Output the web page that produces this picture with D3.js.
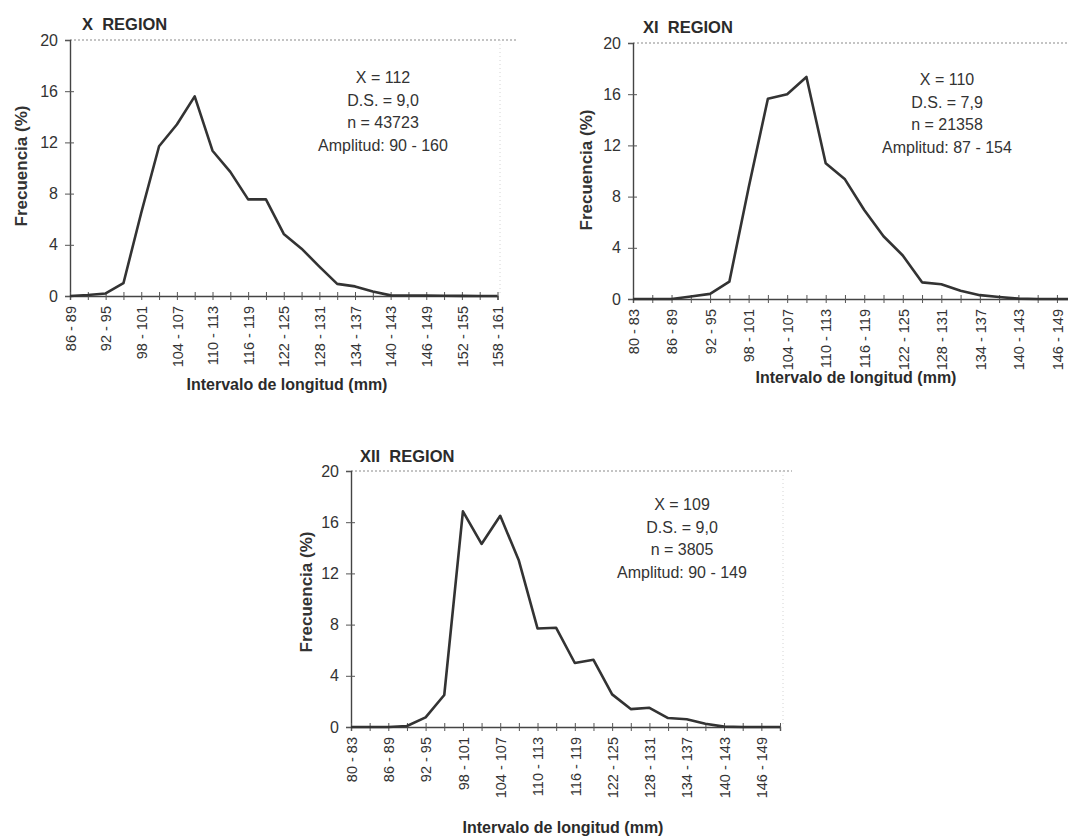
<!DOCTYPE html>
<html>
<head>
<meta charset="utf-8">
<script src="https://cdn.jsdelivr.net/npm/d3@7"></script>
<style>
  body { margin: 0; background: #fff; }
  svg { display: block; font-family: "Liberation Sans", Arial, sans-serif; }
</style>
</head>
<body>
<script>
// length classes (mm)
const catsX = ['86 - 89', '89 - 92', '92 - 95', '95 - 98', '98 - 101', '101 - 104', '104 - 107',
    '107 - 110', '110 - 113', '113 - 116', '116 - 119', '119 - 122', '122 - 125', '125 - 128',
    '128 - 131', '131 - 134', '134 - 137', '137 - 140', '140 - 143', '143 - 146', '146 - 149',
    '149 - 152', '152 - 155', '155 - 158', '158 - 161'];
const catsSouth = ['80 - 83', '83 - 86', '86 - 89', '89 - 92', '92 - 95', '95 - 98', '98 - 101',
    '101 - 104', '104 - 107', '107 - 110', '110 - 113', '113 - 116', '116 - 119', '119 - 122',
    '122 - 125', '125 - 128', '128 - 131', '131 - 134', '134 - 137', '137 - 140', '140 - 143',
    '143 - 146', '146 - 149', '149 - 152'];

// frecuencia (%)
const freqX = [0, 0.08, 0.2, 1.0, 6.5, 11.7, 13.4, 15.6, 11.35, 9.7, 7.55, 7.55, 4.85, 3.7,
    2.3, 0.95, 0.75, 0.35, 0.05, 0.04, 0.03, 0.02, 0.01, 0, 0];
const freqXI = [0, 0, 0, 0.2, 0.4, 1.35, 8.7, 15.65, 16.0, 17.35, 10.6, 9.35, 6.95, 4.9,
    3.4, 1.3, 1.15, 0.65, 0.3, 0.15, 0.03, 0, 0, 0];
const freqXII = [0, 0, 0, 0.08, 0.75, 2.5, 16.85, 14.3, 16.5, 13.0, 7.7, 7.75, 5.0, 5.25,
    2.55, 1.4, 1.5, 0.7, 0.6, 0.25, 0.03, 0, 0, 0];

const statsX = ['X = 112', 'D.S. = 9,0', 'n = 43723', 'Amplitud: 90 - 160'];
const statsXI = ['X = 110', 'D.S. = 7,9', 'n = 21358', 'Amplitud: 87 - 154'];
const statsXII = ['X = 109', 'D.S. = 9,0', 'n = 3805', 'Amplitud: 90 - 149'];

const yTicks = [0, 4, 8, 12, 16, 20];
const ink = '#2b2b2b';

const panels = [
    {title: 'X  REGION', cats: catsX, vals: freqX, stats: statsX,
     x0: 70, x1: 497.5, top: 40, bottom: 296, gridEnd: 517, border: 500,
     titleX: 82, titleY: 30, statX: 383, statY: 83,
     yTitleX: 27, yTitleY: 166, xTitleX: 287, xTitleY: 390},
    {title: 'XI  REGION', cats: catsSouth, vals: freqXI, stats: statsXI,
     x0: 633, x1: 1076.2, top: 43, bottom: 299, gridEnd: 1068, border: null,
     titleX: 643, titleY: 33, statX: 947, statY: 85,
     yTitleX: 592, yTitleY: 170, xTitleX: 856, xTitleY: 383},
    {title: 'XII  REGION', cats: catsSouth, vals: freqXII, stats: statsXII,
     x0: 351, x1: 780, top: 471, bottom: 727, gridEnd: 792, border: 783,
     titleX: 360, titleY: 462, statX: 682, statY: 510,
     yTitleX: 312, yTitleY: 592, xTitleX: 563, xTitleY: 833}
];

const svg = d3.select('body')
    .append('svg')
    .attr('width', 1068)
    .attr('height', 838);

svg.append('rect')
    .attr('width', 1068)
    .attr('height', 838)
    .attr('fill', 'white');

panels.forEach(function (p) {
    const g = svg.append('g');
    const x = d3.scalePoint().domain(p.cats).range([p.x0, p.x1]);
    const y = d3.scaleLinear().domain([0, 20]).range([p.bottom, p.top]);

    // dotted line at 20 and faint right border
    g.append('line')
        .attr('x1', p.x0).attr('x2', p.gridEnd)
        .attr('y1', y(20)).attr('y2', y(20))
        .attr('stroke', '#8a8a8a')
        .attr('stroke-width', 1.2)
        .attr('stroke-dasharray', '2,2');
    if (p.border) {
        g.append('line')
            .attr('x1', p.border).attr('x2', p.border)
            .attr('y1', y(20)).attr('y2', p.bottom)
            .attr('stroke', '#d4d4d4')
            .attr('stroke-dasharray', '1,3');
    }

    // y axis, ticks cross the line
    const yAxis = g.append('g')
        .attr('transform', `translate(${p.x0},0)`)
        .call(d3.axisLeft(y).tickValues(yTicks).tickSize(5).tickPadding(7));
    g.append('g')
        .attr('transform', `translate(${p.x0},0)`)
        .call(d3.axisLeft(y).tickValues(yTicks.slice(0, -1)).tickSize(-4).tickFormat(''))
        .call(a => a.select('.domain').remove());
    yAxis.select('.domain').attr('stroke', '#444').attr('stroke-width', 1.4);
    yAxis.selectAll('line').attr('stroke', '#555');
    yAxis.selectAll('text')
        .attr('font-size', 16)
        .attr('font-family', '"Liberation Sans", Arial, sans-serif')
        .attr('fill', '#333');

    // x axis with rotated labels on every second class
    const xAxis = g.append('g')
        .attr('transform', `translate(0,${p.bottom})`)
        .call(d3.axisBottom(x).tickSize(4).tickFormat((d, i) => i % 2 === 0 ? d : ''));
    g.append('g')
        .attr('transform', `translate(0,${p.bottom})`)
        .call(d3.axisBottom(x).tickSize(-4).tickFormat(''))
        .call(a => a.select('.domain').remove());
    xAxis.select('.domain').attr('stroke', '#444').attr('stroke-width', 1.4);
    g.selectAll('.tick line').attr('stroke', '#555');
    xAxis.selectAll('text')
        .attr('transform', 'rotate(-90)')
        .attr('text-anchor', 'end')
        .attr('x', -10)
        .attr('y', 0)
        .attr('dy', '0.36em')
        .attr('font-size', 14.5)
        .attr('font-family', '"Liberation Sans", Arial, sans-serif')
        .attr('fill', '#333');

    // frequency polygon
    const line = d3.line()
        .x((d, i) => x(p.cats[i]))
        .y(d => y(d));
    g.append('path')
        .datum(p.vals)
        .attr('d', line)
        .attr('fill', 'none')
        .attr('stroke', '#333')
        .attr('stroke-width', 2.6)
        .attr('stroke-linejoin', 'round');

    // titles
    g.append('text')
        .attr('x', p.titleX)
        .attr('y', p.titleY)
        .attr('font-size', 16.5)
        .attr('font-weight', 'bold')
        .attr('fill', ink)
        .style('white-space', 'pre')
        .text(p.title);
    g.append('text')
        .attr('transform', `translate(${p.yTitleX},${p.yTitleY}) rotate(-90)`)
        .attr('text-anchor', 'middle')
        .attr('font-size', 17)
        .attr('font-weight', 'bold')
        .attr('fill', '#333')
        .text('Frecuencia (%)');
    g.append('text')
        .attr('x', p.xTitleX)
        .attr('y', p.xTitleY)
        .attr('text-anchor', 'middle')
        .attr('font-size', 16)
        .attr('font-weight', 'bold')
        .attr('fill', ink)
        .text('Intervalo de longitud (mm)');

    // summary stats
    g.selectAll('.stat')
        .data(p.stats)
        .enter()
        .append('text')
        .attr('class', 'stat')
        .attr('x', p.statX)
        .attr('y', (d, i) => p.statY + i * 22.5)
        .attr('text-anchor', 'middle')
        .attr('font-size', 16)
        .attr('fill', '#333')
        .text(d => d);
});
</script>
</body>
</html>
